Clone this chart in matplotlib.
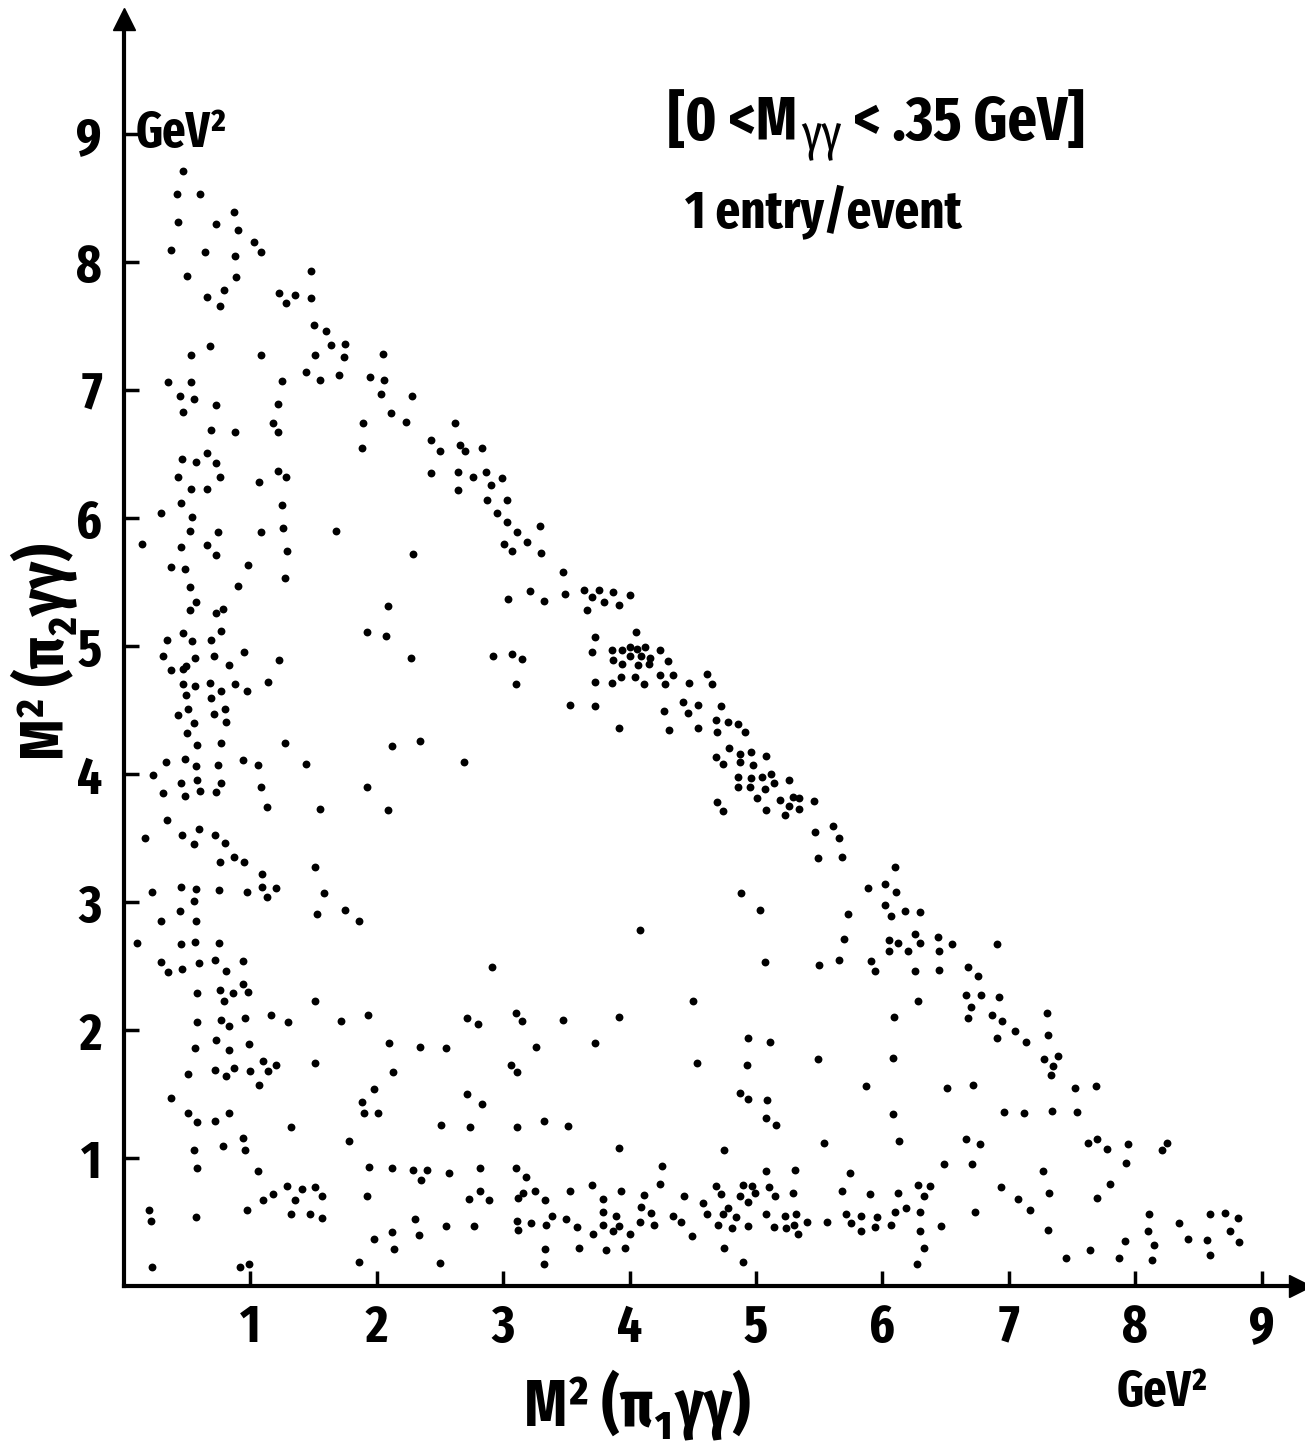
import matplotlib
matplotlib.use("Agg")
import matplotlib.pyplot as plt

plt.rcParams['font.family'] = ['Fira Sans Extra Condensed', 'Roboto Condensed', 'DejaVu Sans']
plt.rcParams['font.weight'] = 'bold'

# M^2(pi1 gamma gamma) , M^2(pi2 gamma gamma) in GeV^2, one entry per event
m2_pi1 = [
    0.47, 0.42, 0.60, 0.87, 0.43, 0.73, 0.90, 1.03, 0.37, 0.64, 0.88, 1.08, 0.50, 0.89, 1.48, 0.66,
    0.79, 0.76, 1.23, 1.35, 1.28, 1.48, 1.50, 1.60, 1.64, 1.75, 1.51, 1.74, 1.44, 1.55, 1.70, 2.05,
    1.95, 2.06, 2.03, 2.28, 2.11, 2.23, 1.89, 1.88, 2.62, 2.43, 2.50, 2.66, 2.70, 2.83, 2.43, 2.64,
    2.76, 2.86, 2.99, 2.90, 2.64, 2.87, 3.03, 2.95, 3.03, 3.11,
    0.53, 0.68, 1.08, 0.35, 0.53, 0.44, 0.55, 0.47, 0.73, 1.25, 1.22, 1.18, 1.22, 0.69, 0.88, 0.66,
    0.46, 0.57, 0.73, 0.43, 0.76, 0.53, 0.66, 1.07, 1.22, 1.28, 0.45, 0.29, 0.54, 1.25, 0.52, 0.74,
    1.08, 1.26, 1.68, 3.29,
    0.14, 0.45, 0.66, 0.73, 1.29, 0.37, 0.48, 0.98, 1.27, 0.52, 0.90, 0.57, 0.52, 0.73, 0.78, 2.29,
    3.01, 3.07, 3.04, 2.09, 1.92, 2.07, 2.27, 2.92, 3.07, 3.10, 0.47, 0.34, 0.54, 0.69, 0.77, 0.31,
    0.56, 0.71, 0.95, 0.37, 0.47, 0.49, 0.83, 1.23, 1.14, 0.47, 0.56, 0.68, 0.88, 0.49, 0.77, 0.97,
    0.69, 0.51, 0.80, 0.43, 0.71, 0.55, 0.81, 0.50, 0.58, 0.77, 1.27, 2.12, 2.34, 0.33, 0.48, 0.57,
    0.74, 0.94, 1.06, 1.44, 2.69, 0.23, 0.45, 0.58, 0.77, 0.31, 0.48, 0.60, 0.73, 1.08, 1.92, 1.13,
    1.55, 2.09, 0.34, 0.17, 0.46, 0.59, 0.55, 0.72, 0.80, 0.76, 0.87, 0.95, 1.09, 1.51, 0.22, 0.45,
    0.57, 0.75, 0.97, 1.09, 1.20, 1.13, 1.58, 0.55, 0.44, 1.53, 1.75,
    0.29, 0.57, 1.86, 0.10, 0.45, 0.56, 0.75, 0.29, 0.35, 0.46, 0.59, 0.72, 0.81, 0.94, 2.91, 0.58,
    0.76, 0.86, 0.94, 0.98, 0.79, 1.51, 0.58, 0.77, 0.83, 0.96, 1.16, 1.30, 1.72, 1.93, 2.71, 2.80,
    3.10, 0.56, 0.73, 0.83, 0.99, 2.10, 2.34, 2.55, 0.51, 0.72, 0.81, 0.87, 1.00, 1.10, 1.14, 1.20,
    1.07, 1.51, 2.13, 1.98, 3.06, 3.11, 0.37, 1.88, 1.90, 2.01, 2.71, 2.83, 0.51, 0.58, 0.72, 0.83,
    1.32, 2.51, 2.74, 3.11, 0.94, 0.55, 0.78, 0.96, 1.78, 0.58, 1.06, 1.94, 2.12, 2.29, 2.40, 2.35,
    2.57, 2.82, 3.10, 1.29, 1.41, 1.51, 1.18, 1.10, 1.35, 1.57, 1.92, 2.82, 2.73, 2.89, 3.12, 0.20,
    0.21, 0.57, 0.97, 1.32, 1.47, 1.57, 2.30, 2.55, 2.77, 3.11, 3.12, 2.12, 2.33, 1.98, 2.14, 0.22,
    0.92, 0.99, 1.86, 2.50,
    3.19, 3.30, 3.47, 3.21, 3.32, 3.49, 3.64, 3.76, 3.87, 4.00, 3.70, 3.80, 3.92, 3.66, 4.05, 3.73,
    3.70, 3.86, 3.94, 4.00, 4.06, 4.12, 4.24, 4.00, 4.09, 4.16, 3.87, 3.94, 4.07, 4.15, 4.30, 3.93,
    4.04, 4.24, 4.34, 3.73, 3.86, 4.11, 4.28, 4.47, 4.61, 4.65, 3.15, 3.53, 3.73, 4.27, 4.42, 4.54,
    4.46, 4.72, 3.92, 4.31, 4.54, 4.68, 4.78, 4.86, 4.69, 4.91, 4.79, 4.68, 4.74, 4.87, 4.87, 4.96,
    4.98, 5.08, 4.86, 4.96, 5.05, 5.12, 5.14, 4.86, 4.95, 5.07, 5.26, 5.01, 5.19, 5.29, 5.34, 5.46,
    4.69, 4.74, 5.08, 5.26, 5.34, 5.23, 5.61, 5.47, 5.66, 5.49, 5.68, 6.10, 5.89, 6.02, 6.11, 6.02,
    6.18, 6.07, 5.73, 4.88, 5.03,
    4.08, 5.70, 6.05, 6.12, 6.05, 6.20, 5.07, 5.50, 5.66, 5.91, 5.94, 3.15, 3.47, 3.92, 4.50, 6.09,
    3.26, 3.73, 4.94, 5.11, 4.53, 4.93, 5.49, 6.08, 4.87, 4.94, 5.09, 5.87, 5.08, 5.16, 6.08, 3.32,
    3.51, 5.54, 6.13, 3.92, 4.75, 3.18, 4.26, 5.08, 5.31, 5.74, 3.70, 4.24, 4.68, 4.90, 4.97, 5.10,
    3.16, 3.25, 3.33, 3.53, 3.79, 3.93, 4.11, 4.43, 4.72, 4.87, 4.99, 4.94, 5.15, 5.29, 5.68, 5.90,
    6.12, 6.19, 3.39, 3.50, 3.79, 3.89, 4.09, 4.17, 4.34, 4.58, 4.61, 4.74, 4.78, 4.84, 5.08, 5.23,
    5.32, 5.40, 5.56, 5.71, 5.83, 5.96, 6.10, 3.22, 3.34, 3.58, 3.79, 3.92, 4.08, 4.19, 4.41, 4.70,
    4.81, 4.94, 5.14, 5.24, 5.30, 5.33, 5.75, 5.83, 5.94, 6.07, 3.71, 3.87, 4.00, 4.49, 3.33, 3.60,
    3.81, 3.96, 4.75, 3.32, 4.90,
    6.30, 6.26, 6.44, 6.30, 6.55, 6.91, 6.45, 6.26, 6.45, 6.68, 6.76, 6.28, 6.66, 6.78, 6.92, 6.70,
    6.68, 6.87, 6.95, 7.30, 6.91, 7.05, 7.14, 7.31, 7.28, 7.39, 7.35, 7.33, 6.51, 6.72, 7.52, 7.69,
    6.96, 7.12, 7.34, 7.54, 6.66, 6.77, 7.63, 7.70, 7.78, 7.94, 8.25, 8.21, 6.49, 6.71, 7.27, 7.93,
    6.28, 6.38, 6.33, 6.94, 7.32, 7.80, 6.30, 6.73, 7.07, 7.17, 7.70, 6.46, 6.30, 7.31, 8.11, 8.59,
    8.71, 8.81, 8.35, 8.10, 8.75, 6.33, 7.92, 8.15, 8.42, 8.57, 8.82, 7.64, 7.45, 7.87, 8.13, 8.59,
    6.27,
]
m2_pi2 = [
    8.71, 8.53, 8.53, 8.39, 8.31, 8.30, 8.25, 8.16, 8.09, 8.08, 8.05, 8.08, 7.89, 7.88, 7.93, 7.73,
    7.78, 7.66, 7.76, 7.74, 7.68, 7.72, 7.51, 7.46, 7.35, 7.36, 7.27, 7.26, 7.14, 7.08, 7.12, 7.28,
    7.10, 7.08, 6.97, 6.95, 6.82, 6.75, 6.74, 6.55, 6.74, 6.61, 6.52, 6.57, 6.52, 6.55, 6.35, 6.36,
    6.32, 6.36, 6.31, 6.26, 6.22, 6.14, 6.14, 6.04, 5.97, 5.89,
    7.27, 7.34, 7.27, 7.06, 7.06, 6.95, 6.93, 6.83, 6.88, 7.07, 6.89, 6.74, 6.67, 6.69, 6.67, 6.51,
    6.46, 6.44, 6.43, 6.32, 6.32, 6.23, 6.23, 6.28, 6.37, 6.32, 6.12, 6.04, 6.01, 6.10, 5.90, 5.89,
    5.89, 5.92, 5.90, 5.94,
    5.80, 5.77, 5.79, 5.71, 5.74, 5.62, 5.60, 5.63, 5.53, 5.46, 5.47, 5.34, 5.28, 5.26, 5.29, 5.72,
    5.80, 5.74, 5.37, 5.31, 5.11, 5.08, 4.91, 4.92, 4.94, 4.70, 5.10, 5.05, 5.04, 5.05, 5.12, 4.92,
    4.91, 4.92, 4.95, 4.81, 4.82, 4.84, 4.85, 4.89, 4.72, 4.70, 4.69, 4.71, 4.70, 4.62, 4.65, 4.65,
    4.59, 4.51, 4.51, 4.46, 4.47, 4.40, 4.41, 4.32, 4.23, 4.24, 4.24, 4.22, 4.26, 4.09, 4.12, 4.06,
    4.07, 4.11, 4.07, 4.08, 4.09, 3.99, 3.93, 3.95, 3.93, 3.85, 3.83, 3.87, 3.86, 3.90, 3.90, 3.74,
    3.73, 3.72, 3.64, 3.50, 3.52, 3.57, 3.45, 3.52, 3.46, 3.31, 3.35, 3.31, 3.22, 3.27, 3.08, 3.12,
    3.10, 3.09, 3.08, 3.12, 3.11, 3.04, 3.07, 3.01, 2.93, 2.91, 2.94,
    2.85, 2.85, 2.85, 2.68, 2.67, 2.69, 2.68, 2.53, 2.45, 2.48, 2.52, 2.55, 2.46, 2.54, 2.49, 2.29,
    2.31, 2.29, 2.36, 2.30, 2.23, 2.23, 2.06, 2.08, 2.03, 2.09, 2.12, 2.06, 2.07, 2.12, 2.09, 2.05,
    2.13, 1.86, 1.92, 1.84, 1.89, 1.90, 1.87, 1.86, 1.66, 1.69, 1.64, 1.70, 1.68, 1.76, 1.68, 1.73,
    1.57, 1.74, 1.67, 1.54, 1.73, 1.67, 1.47, 1.44, 1.35, 1.35, 1.50, 1.42, 1.35, 1.28, 1.29, 1.35,
    1.24, 1.26, 1.24, 1.24, 1.16, 1.06, 1.09, 1.06, 1.13, 0.92, 0.90, 0.93, 0.92, 0.91, 0.91, 0.83,
    0.88, 0.92, 0.92, 0.78, 0.76, 0.77, 0.72, 0.67, 0.67, 0.70, 0.70, 0.74, 0.68, 0.67, 0.69, 0.59,
    0.51, 0.54, 0.59, 0.56, 0.56, 0.53, 0.52, 0.47, 0.47, 0.51, 0.44, 0.42, 0.40, 0.37, 0.29, 0.15,
    0.15, 0.17, 0.19, 0.18,
    5.81, 5.73, 5.58, 5.43, 5.35, 5.41, 5.44, 5.44, 5.42, 5.40, 5.38, 5.34, 5.32, 5.28, 5.11, 5.07,
    4.95, 4.97, 4.97, 4.99, 4.98, 4.99, 4.97, 4.92, 4.92, 4.91, 4.89, 4.86, 4.85, 4.86, 4.88, 4.76,
    4.76, 4.77, 4.77, 4.72, 4.71, 4.70, 4.70, 4.71, 4.78, 4.70, 4.90, 4.54, 4.53, 4.49, 4.56, 4.54,
    4.48, 4.53, 4.36, 4.34, 4.36, 4.42, 4.41, 4.39, 4.33, 4.33, 4.20, 4.13, 4.08, 4.16, 4.09, 4.17,
    4.07, 4.14, 3.98, 3.97, 3.98, 4.00, 3.93, 3.90, 3.90, 3.88, 3.95, 3.81, 3.80, 3.82, 3.81, 3.79,
    3.78, 3.71, 3.72, 3.75, 3.73, 3.68, 3.59, 3.55, 3.50, 3.34, 3.35, 3.27, 3.11, 3.14, 3.08, 2.98,
    2.93, 2.89, 2.91, 3.07, 2.94,
    2.78, 2.71, 2.70, 2.68, 2.62, 2.62, 2.53, 2.51, 2.55, 2.54, 2.46, 2.07, 2.08, 2.10, 2.23, 2.10,
    1.87, 1.90, 1.94, 1.91, 1.74, 1.73, 1.77, 1.78, 1.51, 1.46, 1.45, 1.56, 1.31, 1.26, 1.34, 1.29,
    1.25, 1.12, 1.13, 1.08, 1.06, 0.85, 0.94, 0.90, 0.91, 0.88, 0.79, 0.80, 0.78, 0.79, 0.78, 0.77,
    0.73, 0.74, 0.67, 0.74, 0.68, 0.74, 0.71, 0.70, 0.72, 0.70, 0.73, 0.66, 0.70, 0.73, 0.74, 0.72,
    0.73, 0.61, 0.55, 0.52, 0.58, 0.55, 0.62, 0.57, 0.55, 0.65, 0.56, 0.56, 0.61, 0.54, 0.56, 0.55,
    0.56, 0.50, 0.50, 0.56, 0.55, 0.54, 0.58, 0.49, 0.48, 0.46, 0.48, 0.47, 0.50, 0.48, 0.50, 0.48,
    0.45, 0.47, 0.46, 0.45, 0.48, 0.41, 0.49, 0.43, 0.46, 0.48, 0.41, 0.43, 0.41, 0.39, 0.29, 0.30,
    0.28, 0.30, 0.30, 0.17, 0.19,
    2.92, 2.75, 2.73, 2.68, 2.67, 2.67, 2.62, 2.46, 2.47, 2.49, 2.42, 2.23, 2.27, 2.27, 2.26, 2.18,
    2.09, 2.12, 2.07, 2.13, 1.94, 1.99, 1.91, 1.96, 1.77, 1.80, 1.72, 1.65, 1.55, 1.57, 1.55, 1.56,
    1.36, 1.35, 1.37, 1.36, 1.15, 1.11, 1.12, 1.15, 1.07, 1.11, 1.12, 1.06, 0.95, 0.95, 0.90, 0.96,
    0.79, 0.78, 0.70, 0.77, 0.73, 0.80, 0.58, 0.58, 0.68, 0.59, 0.69, 0.47, 0.43, 0.44, 0.56, 0.56,
    0.57, 0.53, 0.49, 0.43, 0.43, 0.30, 0.35, 0.32, 0.37, 0.36, 0.34, 0.28, 0.22, 0.22, 0.20, 0.24,
    0.17,
]
ticks = list(range(1, 10))

W, H = 1305, 1442
fig = plt.figure(figsize=(W / 100, H / 100), dpi=100)
x0, y0 = 124, 1286          # pixel position of the origin
sx, sy = 126.4, 128.0       # pixels per GeV^2
xmax, ymax = 9.3, 9.9
ax = fig.add_axes([x0 / W, (H - y0) / H, xmax * sx / W, ymax * sy / H])
ax.set_xlim(0, xmax)
ax.set_ylim(0, ymax)

ax.scatter(m2_pi1, m2_pi2, s=32, c='black', linewidths=0)

for s in ['top', 'right']:
    ax.spines[s].set_visible(False)
for s in ['left', 'bottom']:
    ax.spines[s].set_linewidth(3)
ax.plot(1, 0, '>k', ms=16, transform=ax.transAxes, clip_on=False)
ax.plot(0, 1, '^k', ms=16, transform=ax.transAxes, clip_on=False)

ax.set_xticks(ticks)
ax.set_yticks(ticks)
ax.tick_params(direction='in', length=11, width=2.5, labelsize=38)
ax.tick_params(axis='x', pad=12)
ax.tick_params(axis='y', pad=16)

ax.text(0.09, 9, 'GeV²', fontsize=36, va='center', ha='left')

# cut label: [0 < M_γγ < .35 GeV]
t1 = ax.text(4.3, 8.95, '[0 <M', fontsize=45, va='baseline', ha='left')
t2 = ax.annotate('γγ', xy=(1, 0), xycoords=t1, xytext=(3, -5), textcoords='offset points',
                 fontsize=36, va='bottom', ha='left', weight='normal')
ax.annotate(' < .35 GeV]', xy=(1, 0), xycoords=(t2, t1), xytext=(0, 0), textcoords='offset points',
            fontsize=45, va='bottom', ha='left')
ax.text(4.44, 8.27, '1 entry/event', fontsize=38, va='baseline', ha='left')

fig.text(637 / W, 1 - 1425 / H, 'M² (π₁γγ)', fontsize=47, ha='center', va='baseline')
fig.text(1162 / W, 1 - 1406 / H, 'GeV²', fontsize=36, ha='center', va='baseline')
fig.text(44 / W, 1 - 652 / H, 'M² (π₂γγ)', fontsize=45, ha='center', va='center', rotation=90)

fig.savefig('out.png', dpi=100)
